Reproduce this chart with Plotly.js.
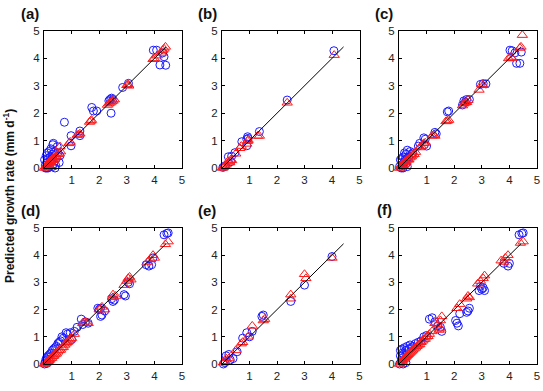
<!DOCTYPE html>
<html>
<head>
<meta charset="utf-8">
<script src="https://cdn.plot.ly/plotly-3.0.1.min.js"></script>
<style>html,body{margin:0;padding:0;background:#fff;}#chart{width:543px;height:391px;}</style>
</head>
<body>
<div id="chart"></div>
<script>
// Panel labels and axis text
const panelLabels = ['(a)', '(b)', '(c)', '(d)', '(e)', '(f)'];
const xTickVals = [1, 2, 3, 4, 5];
const yTickVals = [0, 1, 2, 3, 4, 5];
const yTitle = 'Predicted growth rate (mm d<sup>-1</sup>)';
const oneToOne = [0, 4.42];

// Panel (a)
const aBlueX = [0.02,0.05,0.08,0.1,0.12,0.15,0.18,0.2,0.22,0.25,0.28,0.3,0.32,0.35,0.38,0.4,0.45,0.48,0.5,0.55,0.58,0.15,0.25,0.34,0.1,0.3,0.05,0.42,0.74,0.98,0.98,1.3,1.3,1.73,1.79,1.91,2.43,2.39,2.35,2.45,2.5,2.85,3.06,3.96,4.08,4.2,4.41,4.35,4.3];
const aBlueY = [0.3,0.1,0.45,0.2,0.55,0.35,0.6,0.05,0.4,0.7,0.3,0.5,0.85,0.15,0.6,0.0,0.35,0.78,0.55,0.2,0.45,0.0,0.25,0.9,0.0,0.05,0.0,0.1,1.67,1.18,0.81,1.35,1.18,2.21,2.08,2.08,2.0,2.5,2.45,2.55,2.5,2.94,3.09,4.3,4.3,3.76,3.75,4.06,4.2];
const aRedX = [0.02,0.05,0.08,0.1,0.12,0.15,0.18,0.2,0.22,0.25,0.28,0.3,0.33,0.36,0.4,0.45,0.5,0.55,0.6,0.58,0.9,0.95,1.2,1.25,1.3,1.65,1.7,1.72,2.3,2.35,2.4,2.45,2.5,2.55,3.0,3.05,3.07,3.95,4.0,4.1,4.25,4.3,4.35,4.4];
const aRedY = [0.0,0.05,0.05,0.12,0.1,0.15,0.2,0.18,0.25,0.22,0.3,0.28,0.35,0.3,0.4,0.42,0.5,0.52,0.6,0.78,0.9,0.95,1.2,1.22,1.25,1.68,1.72,1.75,2.3,2.35,2.38,2.42,2.45,2.5,3.02,3.05,3.0,3.97,4.0,4.1,4.2,4.3,4.35,4.42];

// Panel (b)
const bBlueX = [0.03,0.08,0.12,0.23,0.35,0.32,0.47,0.72,0.9,0.93,0.95,0.9,1.36,2.37,4.07];
const bBlueY = [0.02,0.05,0.08,0.41,0.43,0.23,0.56,0.96,1.05,1.14,1.08,0.81,1.33,2.48,4.28];
const bRedX = [0.02,0.05,0.1,0.15,0.22,0.28,0.32,0.35,0.5,0.65,0.7,0.9,0.93,0.95,1.29,1.36,2.37,4.08];
const bRedY = [0.0,0.03,0.08,0.12,0.25,0.2,0.3,0.28,0.52,0.72,0.8,0.88,0.98,1.02,1.17,1.17,2.38,4.12];

// Panel (c)
const cBlueX = [0.02,0.05,0.08,0.1,0.12,0.15,0.18,0.2,0.22,0.25,0.28,0.3,0.35,0.4,0.45,0.5,0.15,0.3,0.1,0.25,0.7,0.75,0.9,0.92,0.95,1.0,1.3,1.35,1.75,1.8,2.3,2.35,2.4,2.45,2.55,2.95,3.05,3.15,4.02,4.1,4.2,4.26,4.38,4.43];
const cBlueY = [0.05,0.3,0.0,0.35,0.1,0.4,0.2,0.55,0.3,0.5,0.35,0.65,0.4,0.6,0.5,0.55,0.0,0.05,0.2,0.15,0.8,0.9,1.1,0.85,1.05,0.8,1.3,1.25,2.05,2.08,2.3,2.45,2.4,2.5,2.5,3.05,3.08,3.07,4.3,4.28,4.2,3.82,3.82,4.23];
const cRedX = [0.02,0.05,0.08,0.1,0.13,0.16,0.2,0.23,0.26,0.3,0.33,0.36,0.4,0.45,0.5,0.55,0.6,0.75,0.8,0.9,0.95,1.2,1.25,1.3,1.7,1.75,1.8,2.3,2.35,2.4,2.45,2.5,2.9,3.0,3.05,3.97,4.05,4.1,4.38,4.42,4.47];
const cRedY = [0.0,0.05,0.1,0.08,0.15,0.12,0.2,0.25,0.22,0.3,0.32,0.3,0.38,0.42,0.48,0.5,0.58,0.75,0.8,0.9,0.92,1.18,1.2,1.17,1.7,1.72,1.75,2.28,2.35,2.38,2.4,2.48,2.85,3.05,3.02,4.0,4.05,4.0,4.38,4.42,4.85];

// Panel (d)
const dBlueX = [0.02,0.05,0.08,0.1,0.12,0.15,0.2,0.25,0.3,0.35,0.4,0.45,0.5,0.55,0.6,0.65,0.7,0.8,0.85,0.95,1.0,1.1,1.2,0.1,0.2,1.35,1.4,1.5,1.6,1.95,2.0,2.05,2.1,2.2,2.05,2.5,2.55,2.45,2.9,2.95,3.05,3.1,3.7,3.8,3.9,3.95,4.35,4.45,4.5];
const dBlueY = [0.0,0.1,0.2,0.02,0.25,0.3,0.35,0.4,0.5,0.55,0.6,0.65,0.75,0.8,0.85,1.0,0.95,1.15,1.1,1.15,0.9,1.2,1.35,0.15,0.1,1.65,1.45,1.55,1.5,2.05,2.0,1.75,1.8,1.95,2.05,2.3,2.35,2.4,2.55,2.5,3.0,2.95,3.65,3.6,3.65,3.9,4.75,4.8,4.82];
const dRedX = [0.02,0.05,0.08,0.1,0.13,0.16,0.2,0.24,0.28,0.32,0.36,0.4,0.45,0.5,0.55,0.6,0.65,0.7,0.75,0.8,0.85,0.9,0.95,1.0,1.1,1.4,1.5,1.6,2.0,2.1,2.2,2.5,2.5,2.6,2.9,3.0,3.1,3.15,3.05,3.75,3.85,3.95,4.0,4.4,4.5];
const dRedY = [0.0,0.02,0.05,0.08,0.1,0.12,0.15,0.2,0.22,0.28,0.3,0.35,0.38,0.45,0.5,0.52,0.6,0.62,0.7,0.75,0.8,0.85,0.9,0.95,1.1,1.5,1.55,1.5,2.0,2.1,2.0,2.55,2.45,2.5,2.9,3.05,3.2,3.1,3.15,3.75,3.85,4.0,3.9,4.4,4.5];

// Panel (e)
const eBlueX = [0.05,0.1,0.15,0.25,0.3,0.4,0.55,0.75,0.9,1.0,1.1,1.45,1.5,2.5,3.0,4.0];
const eBlueY = [0.0,0.05,0.3,0.35,0.15,0.2,0.45,0.95,1.15,1.0,1.2,1.75,1.8,2.3,2.9,3.95];
const eRedX = [0.05,0.1,0.15,0.25,0.5,0.7,0.75,0.95,1.1,1.5,1.55,2.5,2.5,3.0,3.05,4.0];
const eRedY = [0.05,0.1,0.2,0.2,0.5,0.75,0.8,1.0,1.4,1.6,1.65,2.55,2.4,3.3,3.15,3.9];

// Panel (f)
const fBlueX = [0.02,0.05,0.05,0.08,0.1,0.1,0.12,0.15,0.2,0.25,0.3,0.35,0.4,0.45,0.5,0.6,0.7,0.8,0.9,1.0,0.15,0.25,1.1,1.2,1.3,1.55,1.4,1.5,2.05,2.1,2.15,2.2,2.45,2.5,2.55,2.9,3.0,3.05,3.1,2.95,3.8,3.95,4.0,4.35,4.45,4.5];
const fBlueY = [0.0,0.3,0.5,0.1,0.55,0.2,0.4,0.35,0.6,0.5,0.65,0.55,0.7,0.6,0.65,0.75,0.8,0.85,1.0,1.05,0.0,0.05,1.65,1.7,1.55,1.2,1.4,1.35,1.6,1.5,1.4,1.85,1.9,1.95,2.05,2.7,2.75,2.8,2.7,2.85,3.7,3.6,3.7,4.75,4.8,4.82];
const fRedX = [0.02,0.05,0.08,0.1,0.13,0.16,0.2,0.23,0.26,0.3,0.34,0.38,0.42,0.46,0.5,0.55,0.6,0.65,0.7,0.75,0.8,0.85,0.9,0.95,1.0,1.05,1.1,1.2,1.3,1.4,1.45,1.5,1.5,1.55,2.1,2.2,2.45,2.5,2.55,2.85,2.95,3.05,3.1,3.7,3.8,3.85,3.95,4.4,4.5];
const fRedY = [0.0,0.05,0.08,0.12,0.15,0.18,0.22,0.25,0.28,0.32,0.36,0.4,0.44,0.48,0.52,0.56,0.6,0.65,0.7,0.72,0.8,0.85,0.9,0.92,1.0,1.02,1.1,1.2,1.5,1.45,1.25,1.6,1.3,1.75,2.05,2.2,2.4,2.5,2.45,2.95,3.05,3.15,3.25,3.8,3.75,3.9,4.0,4.45,4.5];

const panels = [
  [aBlueX, aBlueY, aRedX, aRedY],
  [bBlueX, bBlueY, bRedX, bRedY],
  [cBlueX, cBlueY, cRedX, cRedY],
  [dBlueX, dBlueY, dRedX, dRedY],
  [eBlueX, eBlueY, eRedX, eRedY],
  [fBlueX, fBlueY, fRedX, fRedY]
];

const W = 543, H = 391;
const colPx = [[44, 182], [222, 359.5], [399, 537]];
const rowPx = [[31, 168], [228, 364]];
const labelPx = [[30, 13], [207, 13], [384, 13], [30, 210], [207, 210], [384, 209]];

const traces = [];
const layout = {
  width: W, height: H,
  margin: {l: 0, r: 0, t: 0, b: 0},
  paper_bgcolor: '#fff', plot_bgcolor: '#fff',
  showlegend: false,
  font: {family: 'Liberation Sans, Arial, sans-serif', size: 11, color: '#222'},
  annotations: []
};

panels.forEach((p, i) => {
  const n = i + 1;
  const xa = 'x' + (n === 1 ? '' : n);
  const ya = 'y' + (n === 1 ? '' : n);
  const col = i % 3, row = Math.floor(i / 3);
  traces.push({x: p[0], y: p[1], xaxis: xa, yaxis: ya, type: 'scatter', mode: 'markers', cliponaxis: false,
    marker: {symbol: 'circle-open', size: 8, color: '#1a1aff', line: {width: 1, color: '#1a1aff'}}});
  traces.push({x: p[2], y: p[3], xaxis: xa, yaxis: ya, type: 'scatter', mode: 'markers', cliponaxis: false,
    marker: {symbol: 'triangle-up-open', size: 9, color: '#ff1a1a', line: {width: 1, color: '#ff1a1a'}}});
  traces.push({x: oneToOne, y: oneToOne, xaxis: xa, yaxis: ya, type: 'scatter', mode: 'lines',
    line: {color: '#000', width: 1}});
  const common = {range: [0, 5], showgrid: false, zeroline: false, showline: true, linecolor: '#000', linewidth: 1,
    mirror: 'ticks', ticks: 'inside', ticklen: 3, tickcolor: '#000', tickwidth: 1, fixedrange: true,
    tickfont: {size: 11.5, color: '#222'}};
  layout['xaxis' + (n === 1 ? '' : n)] = Object.assign({}, common, {
    domain: [colPx[col][0] / W, colPx[col][1] / W], anchor: ya, tickvals: xTickVals, ticklabelstandoff: 1});
  layout['yaxis' + (n === 1 ? '' : n)] = Object.assign({}, common, {
    domain: [1 - rowPx[row][1] / H, 1 - rowPx[row][0] / H], anchor: xa, tickvals: yTickVals, ticklabelstandoff: 1});
  layout.annotations.push({text: '<b>' + panelLabels[i] + '</b>', xref: 'paper', yref: 'paper',
    x: labelPx[i][0] / W, y: 1 - labelPx[i][1] / H, xanchor: 'center', yanchor: 'middle', showarrow: false,
    font: {size: 15, color: '#111', family: 'Liberation Sans, Arial, sans-serif'}});
});

layout.annotations.push({text: '<b>' + yTitle + '</b>', xref: 'paper', yref: 'paper',
  x: 9 / W, y: 1 - 196 / H, xanchor: 'center', yanchor: 'middle', textangle: -90, showarrow: false,
  font: {size: 12, color: '#111', family: 'Liberation Sans, Arial, sans-serif'}});

Plotly.newPlot('chart', traces, layout, {displayModeBar: false, staticPlot: true});
</script>
</body>
</html>
